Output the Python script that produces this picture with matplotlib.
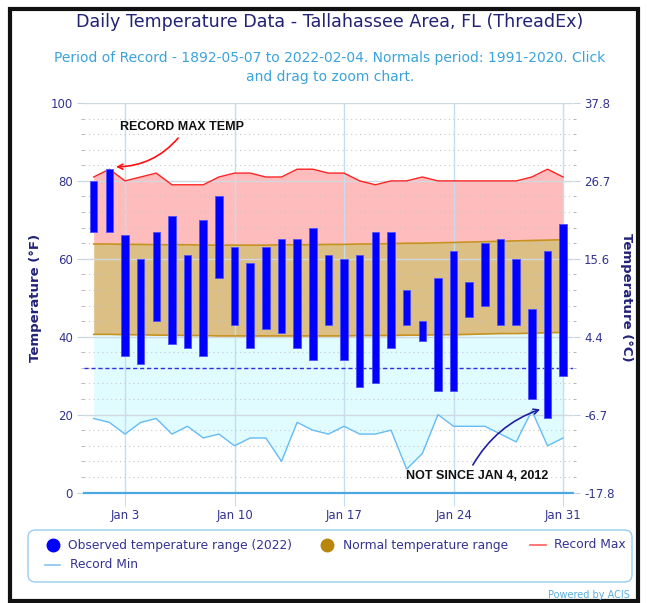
import numpy as np
import matplotlib.pyplot as plt
from matplotlib.patches import FancyBboxPatch, Rectangle
from matplotlib.lines import Line2D

# data (deg F), Jan 1..31 2022
days = np.arange(1, 32)
obs_high = [80, 83, 66, 60, 67, 71, 61, 70, 76, 63, 59, 63, 65, 65, 68, 61,
            60, 61, 67, 67, 52, 44, 55, 62, 54, 64, 65, 60, 47, 62, 69]
obs_low = [67, 67, 35, 33, 44, 38, 37, 35, 55, 43, 37, 42, 41, 37, 34, 43,
           34, 27, 28, 37, 43, 39, 26, 26, 45, 48, 43, 43, 24, 19, 30]
normal_high = [63.8, 63.8, 63.7, 63.7, 63.6, 63.6, 63.6, 63.5, 63.5, 63.5, 63.5,
               63.5, 63.6, 63.6, 63.6, 63.7, 63.7, 63.8, 63.8, 63.9, 64.0, 64.0,
               64.1, 64.2, 64.3, 64.4, 64.5, 64.6, 64.7, 64.8, 64.9]
normal_low = [40.6, 40.6, 40.5, 40.5, 40.4, 40.4, 40.3, 40.3, 40.2, 40.2, 40.2,
              40.2, 40.2, 40.2, 40.2, 40.2, 40.2, 40.3, 40.3, 40.3, 40.4, 40.4,
              40.5, 40.5, 40.6, 40.7, 40.8, 40.8, 40.9, 41.0, 41.1]
record_max = [81, 83, 80, 81, 82, 79, 79, 79, 81, 82, 82, 81, 81, 83, 83, 82,
              82, 80, 79, 80, 80, 81, 80, 80, 80, 80, 80, 80, 81, 83, 81]
record_min = [19, 18, 15, 18, 19, 15, 17, 14, 15, 12, 14, 14, 8, 18, 16, 15,
              17, 15, 15, 16, 6, 10, 20, 17, 17, 17, 15, 13, 21, 12, 14]
tick_days = [3, 10, 17, 24, 31]
tick_labels = ['Jan 3', 'Jan 10', 'Jan 17', 'Jan 24', 'Jan 31']
f_ticks = [0, 20, 40, 60, 80, 100]

W, H = 647, 603
navy = '#333390'

def fx(x):
    return x / W

def fy(y):
    return 1 - y / H

fig = plt.figure(figsize=(W / 100, H / 100), dpi=100)
ax = fig.add_axes([fx(84), fy(492.5), (573 - 84) / W, (492.5 - 103) / H])

hi = np.array(obs_high)
lo = np.array(obs_low)

# shaded ranges
ax.fill_between(days, normal_high, record_max, color='#ffbcbc', lw=0, zorder=1)
ax.fill_between(days, normal_low, normal_high, color='#dbbf84', lw=0, zorder=1)
ax.fill_between(days, record_min, normal_low, color='#e0fcff', lw=0, zorder=1)
ax.plot(days, normal_high, color='#c8921e', lw=1.2, zorder=2.6)
ax.plot(days, normal_low, color='#c8921e', lw=1.2, zorder=2.6)
ax.plot(days, record_max, color='#ff2020', lw=1, zorder=2.7)
ax.plot(days, record_min, color='#66bbf5', lw=1, zorder=2.7)

ax.axhline(32, color='#2f2fe0', lw=1, dashes=(3, 2), zorder=2.8)

ax.bar(days, hi - lo, bottom=lo, width=0.48, color='#0000ff',
       edgecolor='#5050ff', lw=0.6, zorder=3)

ax.set_xlim(0.38, 31.63)
ax.set_ylim(0, 100)
ax.set_axisbelow(False)

ax.set_xticks(tick_days)
ax.set_xticklabels(tick_labels)
ax.set_yticks(f_ticks)
ax.set_yticks(np.arange(0, 101, 4), minor=True)
ax.grid(axis='x', color='#c5ddf0', lw=1)
ax.grid(axis='y', which='major', color='#d2d8e0', lw=1)
ax.grid(axis='y', which='minor', color='#c8c8c8', lw=0.8, linestyle=(0, (1, 3)))

for s in ['top', 'left', 'right']:
    ax.spines[s].set_visible(False)
ax.spines['bottom'].set_color('#4ba8e0')
ax.spines['bottom'].set_linewidth(1.6)
ax.spines['bottom'].set_zorder(2.9)

ax.tick_params(axis='x', length=9, color='#c5ddf0', labelsize=8.5,
               labelcolor=navy, pad=3)
ax.tick_params(axis='y', which='major', length=5, color='#c5d3e0',
               labelsize=8.5, labelcolor=navy, pad=3)
ax.tick_params(axis='y', which='minor', length=2, color='#aaaaaa')
ax.set_ylabel('Temperature (°F)', color='#22227a', fontsize=9.5,
              fontweight='bold', labelpad=6)

ax2 = ax.twinx()
ax2.set_ylim(0, 100)
ax2.set_yticks(f_ticks)
ax2.set_yticklabels([f'{(v - 32) * 5 / 9:.1f}' for v in f_ticks])
ax2.set_yticks(np.arange(0, 101, 4), minor=True)
for s in ['top', 'left', 'right', 'bottom']:
    ax2.spines[s].set_visible(False)
ax2.tick_params(axis='y', which='major', length=5, color='#c5d3e0',
                labelsize=8.5, labelcolor=navy, pad=3)
ax2.tick_params(axis='y', which='minor', length=2, color='#aaaaaa')
ax2.set_ylabel('Temperature (°C)', color='#22227a', fontsize=9.5,
               fontweight='bold', rotation=270, labelpad=13)

# annotations
ax.annotate('RECORD MAX TEMP', xy=(2.25, 83.6), xytext=(6.65, 93.8),
            ha='center', va='center', fontsize=9, fontweight='bold',
            family='Liberation Sans', color='#111111', zorder=5,
            arrowprops=dict(arrowstyle='->', color='#ff1010', lw=1.2,
                            relpos=(0.5, 0), shrinkA=2,
                            connectionstyle='arc3,rad=-0.25'))
ax.annotate('NOT SINCE JAN 4, 2012', xy=(29.7, 21.6), xytext=(25.5, 4.2),
            ha='center', va='center', fontsize=9, fontweight='bold',
            family='Liberation Sans', color='#111111', zorder=5,
            arrowprops=dict(arrowstyle='->', color='#2020a0', lw=1.2,
                            relpos=(0.45, 1), shrinkA=2,
                            connectionstyle='arc3,rad=-0.2'))

# titles
fig.text(fx(330), fy(22), 'Daily Temperature Data - Tallahassee Area, FL (ThreadEx)',
         ha='center', va='center', fontsize=12.6, color='#232375')
fig.text(fx(330), fy(58), 'Period of Record - 1892-05-07 to 2022-02-04. Normals period: 1991-2020. Click',
         ha='center', va='center', fontsize=10, color='#3ba3dc')
fig.text(fx(330), fy(77), 'and drag to zoom chart.',
         ha='center', va='center', fontsize=10, color='#3ba3dc')

# legend box
box = FancyBboxPatch((fx(28), fy(582)), (632 - 28) / W, 52 / H,
                     boxstyle='round,pad=0,rounding_size=0.012',
                     transform=fig.transFigure, fc='white', ec='#99ccee', lw=1)
fig.add_artist(box)
lg = dict(va='center', fontsize=8.8, color=navy)
fig.add_artist(Line2D([fx(53)], [fy(545)], marker='o', ms=9, color='#0000ff',
                      transform=fig.transFigure))
fig.text(fx(68), fy(545), 'Observed temperature range (2022)', **lg)
fig.add_artist(Line2D([fx(327)], [fy(545)], marker='o', ms=9, color='#b8860b',
                      transform=fig.transFigure))
fig.text(fx(343), fy(545), 'Normal temperature range', **lg)
fig.add_artist(Line2D([fx(530), fx(546)], [fy(545), fy(545)], color='#ff6060',
                      lw=1.2, transform=fig.transFigure))
fig.text(fx(554), fy(545), 'Record Max', **lg)
fig.add_artist(Line2D([fx(45), fx(60)], [fy(565), fy(565)], color='#88c4f0',
                      lw=1.2, transform=fig.transFigure))
fig.text(fx(70), fy(565), 'Record Min', **lg)

fig.text(fx(630), fy(595), 'Powered by ACIS', ha='right', va='center',
         fontsize=7, color='#5aaee0')

# screenshot frame
fig.add_artist(Rectangle((fx(10), fy(601)), (638 - 10) / W, (601 - 9) / H,
                         transform=fig.transFigure, fill=False, ec='#111111', lw=3))

fig.savefig('out.png', dpi=100)
